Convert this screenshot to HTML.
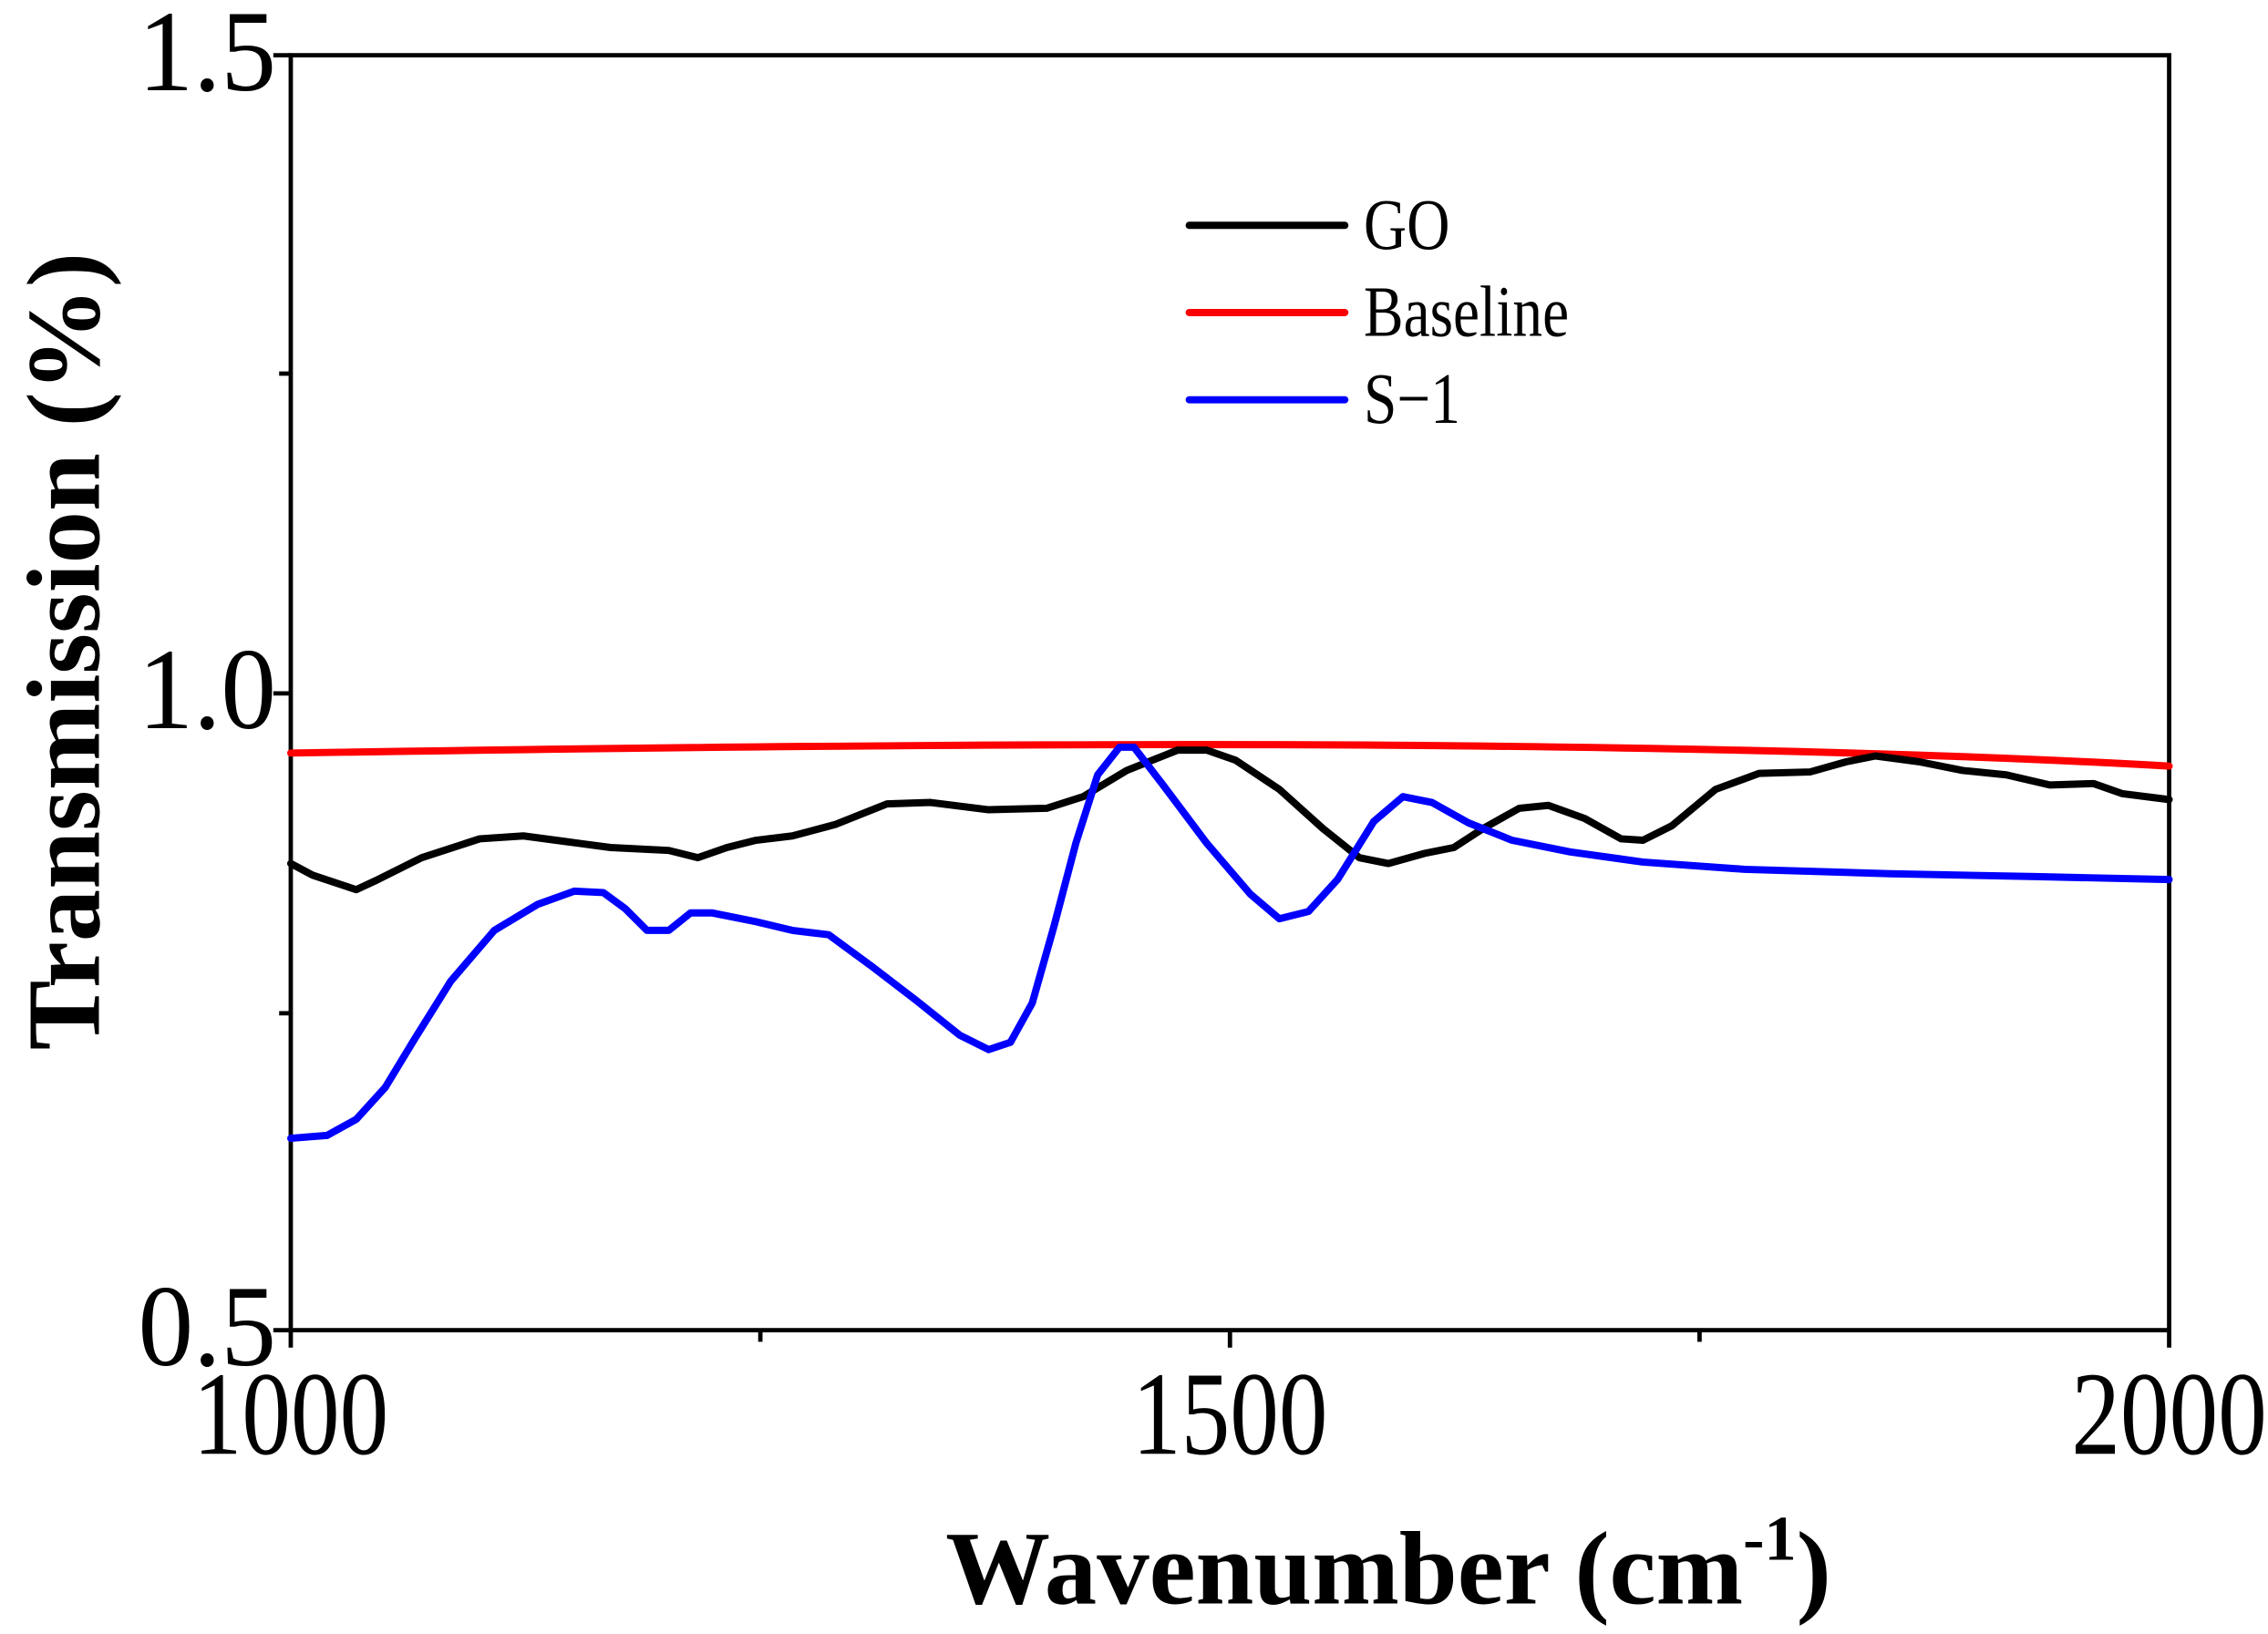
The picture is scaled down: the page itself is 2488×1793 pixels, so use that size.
<!DOCTYPE html>
<html><head><meta charset="utf-8"><style>html,body{margin:0;padding:0;background:#fff}svg{display:block}</style></head>
<body>
<svg width="2488" height="1793" viewBox="0 0 1560 1124" preserveAspectRatio="none" xmlns="http://www.w3.org/2000/svg" font-family="Liberation Serif, serif">
<rect width="1560" height="1124" fill="#fff"/>
<g stroke="#000" stroke-width="3" fill="none">
<rect x="200" y="38" width="1292" height="877"/>
<line x1="200" y1="915" x2="200" y2="927"/><line x1="523" y1="915" x2="523" y2="923"/><line x1="846" y1="915" x2="846" y2="927"/><line x1="1169" y1="915" x2="1169" y2="923"/><line x1="1492" y1="915" x2="1492" y2="927"/>
<line x1="188" y1="38" x2="200" y2="38"/><line x1="192" y1="257" x2="200" y2="257"/><line x1="188" y1="477" x2="200" y2="477"/><line x1="192" y1="697" x2="200" y2="697"/><line x1="188" y1="915" x2="200" y2="915"/>
</g>
<g font-size="80" text-anchor="end">
<text transform="translate(190,62) scale(0.95,1)">1.5</text>
<text transform="translate(190,501) scale(0.95,1)">1.0</text>
<text transform="translate(190,939) scale(0.95,1)">0.5</text>
</g>
<g font-size="82" text-anchor="middle">
<text transform="translate(200,1000) scale(0.82,1)">1000</text>
<text transform="translate(846,1000) scale(0.82,1)">1500</text>
<text transform="translate(1492,1000) scale(0.82,1)">2000</text>
</g>
<text x="955" y="1103" font-size="72" font-weight="bold" text-anchor="middle">Wavenumber (cm<tspan font-size="44" dy="-30">-1</tspan><tspan dy="30">)</tspan></text>
<text transform="translate(68,448) rotate(-90)" font-size="72" font-weight="bold" text-anchor="middle">Transmission (%)</text>
<g stroke-width="5" fill="none" stroke-linejoin="round" stroke-linecap="round">
<line x1="818" y1="155" x2="925" y2="155" stroke="#000"/>
<line x1="818" y1="215" x2="925" y2="215" stroke="#f00"/>
<line x1="818" y1="275" x2="925" y2="275" stroke="#00f"/>
<path stroke="#f00" d="M200,518 Q700,510 1000,513 T1492,527"/>
<path stroke="#000" d="M200,594 L215,602 L245,612 L260,605 L290,590 L330,577 L360,575 L390,579 L420,583 L460,585 L480,590 L500,583 L520,578 L545,575 L575,567 L610,553 L640,552 L680,557 L720,556 L745,548 L775,530 L810,516 L830,516 L850,523 L880,543 L910,570 L935,590 L955,594 L980,587 L1000,583 L1020,570 L1045,556 L1065,554 L1090,563 L1115,577 L1130,578 L1150,568 L1180,543 L1210,532 L1245,531 L1270,524 L1290,520 L1320,524 L1350,530 L1380,533 L1410,540 L1440,539 L1460,546 L1492,550"/>
<path stroke="#00f" d="M200,783 L225,781 L245,770 L265,748 L285,715 L310,675 L340,640 L370,622 L395,613 L415,614 L430,625 L445,640 L460,640 L475,628 L490,628 L520,634 L545,640 L570,643 L600,665 L630,688 L660,712 L680,722 L695,717 L710,690 L725,637 L740,580 L755,533 L770,514 L780,514 L800,540 L830,580 L860,615 L880,632 L900,627 L920,605 L945,565 L965,548 L985,552 L1010,566 L1040,578 L1080,586 L1130,593 L1200,598 L1300,601 L1400,603 L1492,605"/>
</g>
<g font-size="50">
<text transform="translate(938,171) scale(0.82,1)">GO</text>
<text transform="translate(938,231) scale(0.82,1)">Baseline</text>
<text transform="translate(938,291) scale(0.82,1)">S−1</text>
</g>
</svg>
</body></html>
